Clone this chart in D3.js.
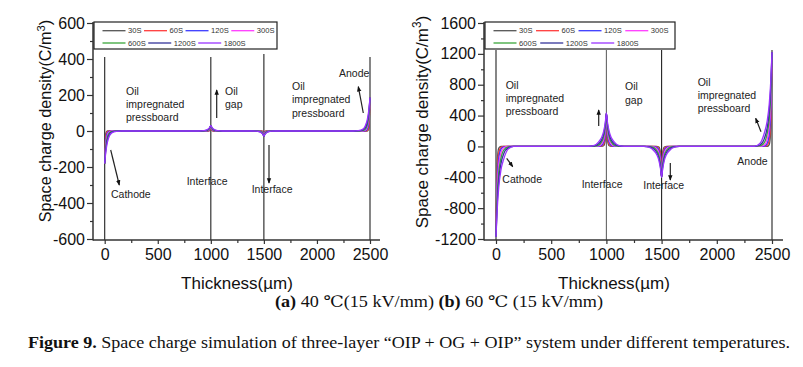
<!DOCTYPE html>
<html><head><meta charset="utf-8">
<script src="https://cdn.jsdelivr.net/npm/d3@7/dist/d3.min.js"></script>
<style>
body{margin:0;background:#fff}
svg{display:block}
text{font-family:"Liberation Sans",Arial,sans-serif}
text.serif{font-family:"Liberation Serif","DejaVu Serif",serif}
</style>
</head><body>
<svg id="c" width="803" height="367"></svg>
<script>
// ---------- data ----------
const seriesNames = ["30S","60S","120S","300S","600S","1200S","1800S"];
const seriesColors = ["#555555","#ff3b3b","#3b3bff","#ff3bff","#3aa63a","#333399","#9933ff"];
const thicknessUm = [0,10,25,45,70,110,160, 840,890,930,955,975,990,1000,1010,1025,1045,1070,1110,1160,
  1340,1390,1430,1455,1475,1490,1500,1510,1525,1545,1570,1610,1660, 2340,2390,2430,2455,2475,2490,2500];

// (a) 40 °C
const a30   = [-180,-14,0,0,0,0,0, 0,0,0,0,0,2,30,2,0,0,0,0,0, 0,0,0,0,0,-2,-28,-2,0,0,0,0,0, 0,0,0,0,0,15,185];
const a60   = [-180,-34,-3,0,0,0,0, 0,0,0,0,0,6,30,6,0,0,0,0,0, 0,0,0,0,0,-5,-28,-5,0,0,0,0,0, 0,0,0,0,3,35,185];
const a120  = [-180,-59,-11,-1,0,0,0, 0,0,0,0,2,10,30,10,2,0,0,0,0, 0,0,0,0,-2,-9,-28,-9,-2,0,0,0,0, 0,0,0,1,11,61,185];
const a300  = [-180,-79,-23,-4,0,0,0, 0,0,0,1,4,13,30,13,4,1,0,0,0, 0,0,0,-1,-4,-12,-28,-12,-4,-1,0,0,0, 0,0,0,4,24,81,185];
const a600  = [-180,-92,-34,-9,-2,0,0, 0,0,0,2,6,15,30,15,6,2,0,0,0, 0,0,0,-1,-5,-14,-28,-14,-5,-1,0,0,0, 0,0,2,9,35,94,185];
const a1200 = [-180,-106,-49,-16,-5,-1,0, 0,0,1,3,8,18,30,18,8,3,1,0,0, 0,0,-1,-3,-8,-17,-28,-17,-8,-3,-1,0,0, 0,1,5,17,50,109,185];
const a1800 = [-180,-119,-63,-27,-9,-2,0, 0,0,2,5,11,20,30,20,11,5,2,0,0, 0,0,-1,-4,-10,-18,-28,-18,-10,-4,-1,0,0, 0,2,9,28,65,122,185];

// (b) 60 °C
const b30   = [-1170,-222,-23,0,0,0,0, 0,0,0,0,9,82,430,82,9,0,0,0,0, 0,0,0,0,-8,-76,-400,-76,-8,0,0,0,0, 0,0,0,0,24,232,1220];
const b60   = [-1170,-351,-82,-12,0,0,0, 0,0,0,4,30,129,430,129,30,4,0,0,0, 0,0,0,-4,-28,-120,-400,-120,-28,-4,0,0,0, 0,0,0,12,85,366,1220];
const b120  = [-1170,-468,-152,-35,-5,0,0, 0,0,2,13,56,172,430,172,56,13,2,0,0, 0,0,-2,-12,-52,-160,-400,-160,-52,-12,-2,0,0, 0,0,5,37,159,488,1220];
const b300  = [-1170,-585,-246,-82,-18,0,0, 0,0,6,30,90,215,430,215,90,30,6,0,0, 0,0,-6,-28,-84,-200,-400,-200,-84,-28,-6,0,0, 0,0,18,85,256,610,1220];
const b600  = [-1170,-679,-339,-152,-47,-6,0, 0,2,17,56,125,249,430,249,125,56,17,2,0, 0,-2,-16,-52,-116,-232,-400,-232,-116,-52,-16,-2,0, 0,6,49,159,354,708,1220];
const b1200 = [-1170,-772,-433,-222,-94,-18,0, 0,6,34,82,159,284,430,284,159,82,34,6,0, 0,-6,-32,-76,-148,-264,-400,-264,-148,-76,-32,-6,0, 0,18,98,232,451,805,1220];
const b1800 = [-1170,-842,-527,-304,-164,-35,0, 0,13,60,112,194,310,430,310,194,112,60,13,0, 0,-12,-56,-104,-180,-288,-400,-288,-180,-104,-56,-12,0, 0,37,171,317,549,878,1220];

const xTicks = [0,500,1000,1500,2000,2500];
const xMinorTicks = [250,750,1250,1750,2250];
const yTicksA = [-600,-400,-200,0,200,400,600];
const yMinorA = [-500,-300,-100,100,300,500];
const yTicksB = [-1200,-800,-400,0,400,800,1200,1600];
const yMinorB = [-1000,-600,-200,200,600,1000,1400];
const interfaceX = [0,1000,1500,2500];
const interfaceTopA = [411,411,428,411];
const interfaceTopB = [1250,1250,1250,1250];

// ---------- drawing ----------
const svg = d3.select("#c");
const defs = svg.append("defs");
defs.append("marker").attr("id","arr").attr("viewBox","0 0 8 8").attr("refX",7).attr("refY",4)
  .attr("markerWidth",5.5).attr("markerHeight",5.5).attr("orient","auto-start-reverse")
  .attr("markerUnits","userSpaceOnUse")
  .append("path").attr("d","M0,0.8 L8,4 L0,7.2 Z").attr("fill","#111");

function drawChart(cfg){
  const g = svg.append("g");
  const x = d3.scaleLinear().domain([0,2500]).range(cfg.xr);
  const y = d3.scaleLinear().domain(cfg.yd).range([239,23]);

  interfaceX.forEach((xv,i)=>{
    g.append("line").attr("x1",x(xv)).attr("x2",x(xv))
      .attr("y1",y(cfg.yd[0])+1).attr("y2",y(cfg.vTop[i]))
      .attr("stroke", cfg.vColor[i]).attr("stroke-width",1.1);
  });

  const line = d3.line().x((d,i)=>x(thicknessUm[i])).y(d=>y(d)).curve(d3.curveMonotoneX);
  cfg.series.forEach((s,i)=>{
    g.append("path").attr("d",line(s)).attr("fill","none")
      .attr("stroke",seriesColors[i]).attr("stroke-width",1.3);
  });

  const axisColor = "#333";
  const yMaj = g.append("g").attr("transform",`translate(${cfg.ax},0)`)
    .call(d3.axisLeft(y).tickValues(cfg.yTicks).tickSize(6).tickPadding(2).tickFormat(d=>String(d)));
  const yMin = g.append("g").attr("transform",`translate(${cfg.ax},0)`)
    .call(d3.axisLeft(y).tickValues(cfg.yMinor).tickSize(3).tickFormat(""));
  const xMaj = g.append("g").attr("transform","translate(0,240)")
    .call(d3.axisBottom(x).tickValues(xTicks).tickSize(4).tickPadding(5).tickFormat(d=>String(d)));
  const xMin = g.append("g").attr("transform","translate(0,240)")
    .call(d3.axisBottom(x).tickValues(xMinorTicks).tickSize(3).tickFormat(""));
  [yMaj,yMin,xMaj,xMin].forEach(a=>{
    a.select(".domain").remove();
    a.selectAll("line").attr("stroke",axisColor).attr("stroke-width",1.2);
    a.selectAll("text").attr("font-size",16).attr("fill","#111");
  });
  g.append("line").attr("x1",cfg.ax).attr("x2",cfg.ax).attr("y1",22).attr("y2",240.6)
    .attr("stroke",axisColor).attr("stroke-width",1.5);
  g.append("line").attr("x1",cfg.ax).attr("x2",cfg.axEnd).attr("y1",240).attr("y2",240)
    .attr("stroke",axisColor).attr("stroke-width",1.5);

  const yt = g.append("text").attr("transform",`translate(${cfg.ytx},${cfg.yty}) rotate(-90)`)
    .attr("text-anchor","middle").attr("font-size",cfg.ytfs).attr("fill","#111");
  yt.append("tspan").text("Space charge density(C/m");
  yt.append("tspan").text("3").attr("font-size",cfg.ytfs*0.7).attr("dy",-cfg.ytfs*0.4);
  yt.append("tspan").text(")").attr("dy",cfg.ytfs*0.4);
  g.append("text").attr("x",cfg.xtx).attr("y",289).attr("text-anchor","middle")
    .attr("font-size",17).attr("fill","#111").text("Thickness(µm)");

  const lg = g.append("g");
  lg.append("rect").attr("x",cfg.lx).attr("y",22).attr("width",cfg.lw).attr("height",27)
    .attr("fill","#fff").attr("stroke","#222").attr("stroke-width",1.2);
  const rows = [[0,1,2,3],[4,5,6]];
  rows.forEach((r,ri)=>{
    let cx = cfg.lx + 8.5;
    const cy = 22 + (ri ? 21 : 8.7);
    r.forEach(i=>{
      lg.append("line").attr("x1",cx).attr("x2",cx+23).attr("y1",cy).attr("y2",cy)
        .attr("stroke",seriesColors[i]).attr("stroke-width",1.3);
      const t = lg.append("text").attr("x",cx+25.5).attr("y",cy+2.7).attr("font-size",7.6)
        .attr("fill","#333").text(seriesNames[i]);
      cx += 25.5 + t.node().getComputedTextLength() + cfg.lgap;
    });
  });

  cfg.notes.forEach(n=>{
    const t = g.append("text").attr("font-size",10.5).attr("fill","#222");
    n.lines.forEach((s,k)=>{
      t.append("tspan").attr("x",n.x).attr("y",n.y + k*(n.lh||13)).text(s);
    });
  });
  cfg.arrows.forEach(a=>{
    g.append("line").attr("x1",a[0]).attr("y1",a[1]).attr("x2",a[2]).attr("y2",a[3])
      .attr("stroke","#222").attr("stroke-width",1.2).attr("marker-end","url(#arr)");
  });
}

drawChart({
  xr:[104.7,370], yd:[-600,600], ax:93, axEnd:380,
  series:[a30,a60,a120,a300,a600,a1200,a1800],
  yTicks:yTicksA, yMinor:yMinorA, vTop:interfaceTopA,
  vColor:["#222","#222","#222","#222"],
  ytx:51, yty:121, ytfs:16.2, xtx:237,
  lx:94, lw:183, lgap:2.5,
  notes:[
    {x:126,y:95.4,lines:["Oil","impregnated","pressboard"],lh:12.7},
    {x:225,y:95.4,lines:["Oil","gap"],lh:12.7},
    {x:292,y:89.7,lines:["Oil","impregnated","pressboard"],lh:13.5},
    {x:339,y:76.7,lines:["Anode"]},
    {x:111,y:197.7,lines:["Cathode"]},
    {x:186.7,y:184.7,lines:["Interface"]},
    {x:251.7,y:192.7,lines:["Interface"]}
  ],
  arrows:[[110.7,150,119.3,185],[216.7,118,216.7,90],[269,145,269,183],[363.3,113,358.3,86.7]]
});

drawChart({
  xr:[496,772], yd:[-1200,1600], ax:484, axEnd:783,
  series:[b30,b60,b120,b300,b600,b1200,b1800],
  yTicks:yTicksB, yMinor:yMinorB, vTop:interfaceTopB,
  vColor:["#222","#666","#222","#222"],
  ytx:428, yty:122, ytfs:17, xtx:614,
  lx:485, lw:190, lgap:3.5,
  notes:[
    {x:505.7,y:89.4,lines:["Oil","impregnated","pressboard"],lh:12.7},
    {x:625,y:89.7,lines:["Oil","gap"],lh:14.5},
    {x:697.7,y:86,lines:["Oil","impregnated","pressboard"],lh:13},
    {x:737.3,y:164.7,lines:["Anode"]},
    {x:502.3,y:182.7,lines:["Cathode"]},
    {x:581.7,y:188,lines:["Interface"]},
    {x:643.3,y:188.7,lines:["Interface"]}
  ],
  arrows:[[598.7,126,598.7,110],[506.7,158.3,512.7,166.7],[670.3,163,670.3,180],[761,131.7,755.7,118.3]]
});

// captions
const cap1 = svg.append("text").attr("class","serif").attr("x",275).attr("y",307).attr("font-size",16)
  .attr("fill","#111").attr("textLength",328).attr("lengthAdjust","spacingAndGlyphs");
cap1.append("tspan").attr("font-weight","bold").text("(a)");
cap1.append("tspan").text(" 40  ℃(15 kV/mm) ");
cap1.append("tspan").attr("font-weight","bold").text("(b)");
cap1.append("tspan").text(" 60  ℃  (15 kV/mm)");

const cap2 = svg.append("text").attr("class","serif").attr("x",28).attr("y",348).attr("font-size",16)
  .attr("fill","#111").attr("textLength",762).attr("lengthAdjust","spacingAndGlyphs");
cap2.append("tspan").attr("font-weight","bold").text("Figure 9.");
cap2.append("tspan").text(" Space charge simulation of three-layer “OIP + OG + OIP” system under different temperatures.");
</script>
</body></html>
